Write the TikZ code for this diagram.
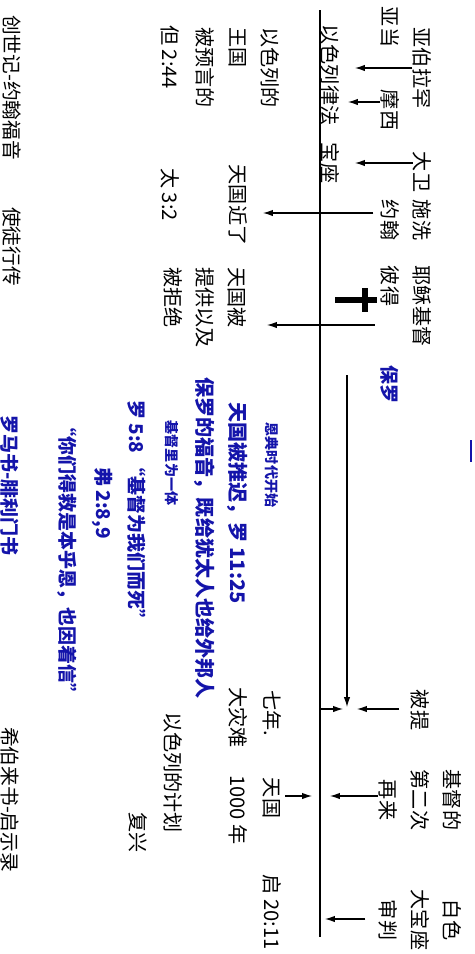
\documentclass[tikz,border=0pt]{standalone}
\usepackage{fontspec}
\setmainfont{Noto Sans CJK SC}
\usetikzlibrary{arrows.meta}
\definecolor{paulblue}{RGB}{20,20,170}

\begin{document}
\begin{tikzpicture}[x=0.025cm, y=-0.025cm, >={Latex[length=7pt,width=4.5pt]},
  lbl/.style={rotate=-90, inner sep=0pt, align=center, font={\fontsize{14.3}{23}\selectfont}},
  blue lbl/.style={lbl, text=paulblue, font={\fontsize{14.3}{23}\selectfont\bfseries}},
  narrow blue/.style={lbl, text=paulblue, font={\fontsize{10}{12}\selectfont\bfseries}},
  small blue/.style={lbl, text=paulblue, font={\fontsize{13.5}{20}\selectfont\bfseries}},
  book/.style={lbl, font={\fontsize{14}{20}\selectfont}},
  arr/.style={->, line width=0.75pt}]
  \useasboundingbox (0,0) rectangle (474,954);

  % the time line and the church age
  \coordinate (tl-top) at (320,10);
  \coordinate (tl-bot) at (320,937);
  \draw[line width=1.1pt] (tl-top) -- (tl-bot);
  \coordinate (church-start) at (347,375);
  \coordinate (church-end) at (347,707);
  \draw[arr] (church-start) -- (church-end);
  \draw[paulblue, line width=1.8pt] (471,440) -- (471,462);

  % people and events above the line
  \node[lbl] (adam) at (390,27) {亚当};
  \node[lbl] (abraham) at (422,68) {亚伯拉罕};
  \node[lbl] (law) at (330,75) {以色列律法};
  \node[lbl] (moses) at (390,110) {摩西};
  \node[lbl] (throne) at (330,163) {宝座};
  \node[lbl] (david) at (422,172) {大卫};
  \node[lbl] (john) at (406,220) {施洗\\约翰};
  \node[lbl] (peter) at (390,286) {彼得};
  \node[lbl] (jesus) at (422,306) {耶稣基督};
  \node[blue lbl, font={\fontsize{13.5}{20}\selectfont\bfseries}] (paul) at (390,384) {保罗};
  \node[lbl] (rapture) at (420,710) {被提};
  \node[lbl] (second) at (420,800) {基督的\\第二次\\再来};
  \node[lbl] (whitethrone) at (420,920) {白色\\大宝座\\审判};

  % the cross
  \draw[line width=3.6pt] (335,300) -- (377,300);
  \draw[line width=3.6pt] (365,288) -- (365,312);

  % below the line
  \node[lbl, align=left, anchor=west] (israel) at (238,27) {以色列的\\王国\\被预言的};
  \node[lbl, anchor=west] (dan) at (170,25) {但 2:44};
  \node[lbl] (near) at (238,205) {天国近了};
  \node[lbl, anchor=west] (matt) at (170,168) {太 3:2};
  \node[lbl, align=left, anchor=west] (rejected) at (205,267) {天国被\\提供以及\\被拒绝};

  \node[narrow blue] (grace) at (272,465) {恩典时代开始};
  \node[blue lbl, anchor=west] (delay) at (238,402) {天国被推迟，罗 11:25};
  \node[blue lbl, anchor=west] (gospel) at (205,377) {保罗的福音，既给犹太人也给外邦人};
  \node[narrow blue] (oneness) at (172,463) {基督里为一体};
  \node[small blue, anchor=west] (rom-five) at (137,400) {罗 5:8 “基督为我们而死”};
  \node[small blue] (eph) at (102,503) {弗 2:8,9};
  \node[small blue, anchor=west] (saved) at (67,417) {“你们得救是本乎恩，也因着信”};
  \node[small blue, anchor=west] (epistles) at (10,415) {罗马书-腓利门书};

  \node[lbl, anchor=west] (seven) at (272,690) {七年.};
  \node[lbl, anchor=west] (tribulation) at (238,687) {大灾难};
  \node[lbl, anchor=west] (plan) at (173,712) {以色列的计划};
  \node[lbl, anchor=west] (revival) at (138,812) {复兴};
  \node[lbl] (heaven) at (272,798) {天国};
  \node[lbl, anchor=west] (millennium) at (238,775) {1000 年};
  \node[lbl, anchor=east] (rev) at (272,950) {启 20:11};

  \node[book, anchor=west] (genesis) at (12,15) {创世记-约翰福音};
  \node[book, anchor=west] (acts) at (12,207) {使徒行传};
  \node[book, anchor=west] (hebrews) at (10,727) {希伯来书-启示录};

  % arrows
  \coordinate (abraham-tip) at (355,68);
  \coordinate (moses-tip) at (348,102);
  \coordinate (david-tip) at (355,163);
  \coordinate (john-tip) at (263,213);
  \coordinate (jesus-tip) at (267,325);
  \coordinate (rapture-tip) at (357,709);
  \coordinate (meet-tip) at (343,709);
  \coordinate (second-tip) at (330,796);
  \coordinate (heaven-tip) at (312,796);
  \coordinate (judge-tip) at (325,919);
  \draw[arr] (abraham.south |- abraham-tip) -- (abraham-tip);
  \draw[arr] (moses.south |- moses-tip) -- (moses-tip);
  \draw[arr] (david.south |- david-tip) -- (david-tip);
  \draw[arr, shorten <=5pt] (john.south |- john-tip) -- (john-tip);
  \draw[arr, shorten <=4pt] (peter.south |- jesus-tip) -- (jesus-tip);
  \draw[arr, shorten <=8pt] (rapture.south |- rapture-tip) -- (rapture-tip);
  \draw[arr] (tl-top |- meet-tip) -- (meet-tip);
  \draw[arr] (second.south |- second-tip) -- (second-tip);
  \draw[arr, shorten <=3pt] (heaven.north |- heaven-tip) -- (heaven-tip);
  \draw[arr, shorten <=9pt] (whitethrone.south |- judge-tip) -- (judge-tip);
\end{tikzpicture}
\end{document}
